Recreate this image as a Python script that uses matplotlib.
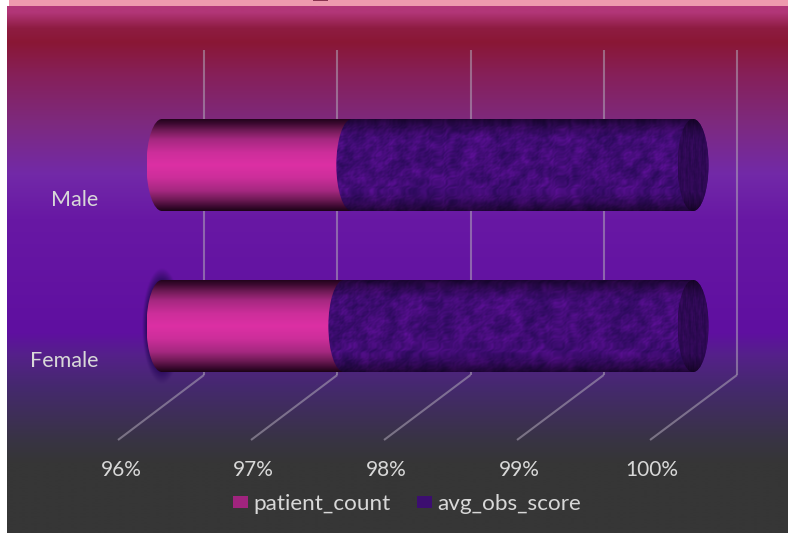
import numpy as np
import matplotlib
matplotlib.use("Agg")
import matplotlib.pyplot as plt
from matplotlib.colors import LinearSegmentedColormap, to_rgb
from matplotlib.patches import PathPatch, Patch
from matplotlib.path import Path
from matplotlib.transforms import ScaledTranslation

plt.rcParams['font.family'] = ['Lato', 'DejaVu Sans']

categories = ["Female", "Male"]
patient_count = [97.37, 97.43]
avg_obs_score = [2.63, 2.57]
tick_values = [96, 97, 98, 99, 100]
tick_labels = ["96%", "97%", "98%", "99%", "100%"]
series_names = ["patient_count", "avg_obs_score"]

W, H = 788, 533
fig = plt.figure(figsize=(W / 100, H / 100), dpi=100, facecolor="white")

# page background
bg = fig.add_axes([0, 0, 1, 1], zorder=0)
bg.set_xlim(0, W); bg.set_ylim(H, 0); bg.axis("off")
stops = [(6, "#B23678"), (22, "#8E1C42"), (36, "#8A1735"), (70, "#86205A"),
         (120, "#7D2A80"), (170, "#7229A8"), (215, "#6818A4"), (330, "#5F0FA0"),
         (352, "#55208A"), (385, "#45296E"), (440, "#383443"), (462, "#363636"), (533, "#363636")]
ys = np.arange(H)
grad = np.stack([np.interp(ys, [s[0] for s in stops], [to_rgb(s[1])[c] for s in stops]) for c in range(3)], axis=1)[:, None, :]
bg.imshow(grad, extent=[7, W, H, 6], aspect="auto", interpolation="bilinear", zorder=1)
bg.add_patch(plt.Rectangle((9, 0), W - 9, 6, fc="#EE9AAE", ec="none", zorder=2))
bg.add_patch(plt.Rectangle((313, 0), 15, 1, fc="#8A3350", ec="none", zorder=3))
bg.set_xlim(0, W); bg.set_ylim(H, 0)

# chart plane: 96..100 % across the bar plane
PX_L, PX_R = 162, 693
PX_TOP, PX_BOT = 50, 440
PX_F, PX_M = 326, 165
ax = fig.add_axes([PX_L / W, 1 - PX_BOT / H, (PX_R - PX_L) / W, (PX_BOT - PX_TOP) / H], zorder=1)
ax.patch.set_visible(False)
for s in ax.spines.values():
    s.set_visible(False)
xscale = (PX_R - PX_L) / 4
yscale = PX_F - PX_M
ylim = ((PX_F - PX_BOT) / yscale, (PX_F - PX_TOP) / yscale)
xlim = (96, 100)
ax.set_xlim(*xlim); ax.set_ylim(*ylim)

# walls and floor
depth = 42 / xscale
front = 44 / xscale
wall_bottom = (PX_F - 375) / yscale
wall_top = ylim[1]
line_kw = dict(color="#B0A8B8", alpha=0.55, lw=1.5, clip_on=False, zorder=1, solid_capstyle="butt")
for t in tick_values:
    xs = t + depth + (t - 96) * 0.0038
    xf = t - front + (t - 96) * 0.0019
    ax.plot([xs, xs], [wall_top, wall_bottom], **line_kw)
    ax.plot([xs, xf], [wall_bottom, ylim[0]], **line_kw)

# cylinder images
half_h = 46 / yscale
cap_w = 15.5 / xscale
K = 0.5523


def cyl_path(x0, x1, yc, closed_right=False):
    t, b = yc + half_h, yc - half_h
    verts = [(x0, t), (x1, t)]
    codes = [Path.MOVETO, Path.LINETO]
    if closed_right:
        verts += [(x1 + cap_w * K, t), (x1 + cap_w, yc + half_h * K), (x1 + cap_w, yc),
                  (x1 + cap_w, yc - half_h * K), (x1 + cap_w * K, b), (x1, b)]
        codes += [Path.CURVE4] * 6
    else:
        verts += [(x1, b)]
        codes += [Path.LINETO]
    verts += [(x0, b), (x0 - cap_w * K, b), (x0 - cap_w, yc - half_h * K), (x0 - cap_w, yc),
              (x0 - cap_w, yc + half_h * K), (x0 - cap_w * K, t), (x0, t)]
    codes += [Path.LINETO] + [Path.CURVE4] * 6
    return Path(verts, codes)


def draw_clipped(img, x0, x1, yc, path, z, cmap=None, vmin=None, vmax=None):
    im = ax.imshow(img, extent=[x0, x1, yc - half_h, yc + half_h], aspect="auto", origin="upper",
                   interpolation="bilinear", cmap=cmap, vmin=vmin, vmax=vmax, zorder=z)
    im.set_clip_box(fig.bbox)
    im.set_clip_path(PathPatch(path, transform=ax.transData))
    return im


pink_pos = [0, .05, .12, .22, .36, .5, .64, .78, .88, .95, 1]
pink_col = ["#22041C", "#3E0A32", "#6E1A55", "#A52880", "#CC2E9A", "#DC30A4",
            "#CC2E9A", "#A52880", "#6E1A55", "#3E0A32", "#1C0316"]
pink_cmap = LinearSegmentedColormap.from_list("p", list(zip(pink_pos, pink_col)))
pink_img = np.linspace(0, 1, 256)[:, None]


def texture(seed, h=92, w=380):
    yy, xx = np.mgrid[0:h, 0:w].astype(float)
    v = np.zeros_like(xx)
    for i, (fx, fy) in enumerate([(.031, .083), (.071, .047), (.127, .191), (.233, .157), (.41, .37), (.67, .59), (.83, 1.07), (1.19, .91)]):
        v += np.sin(fx * xx + fy * yy + 1.7 * np.sin(.09 * (i + 1) * yy + seed) + 2.1 * np.sin(.05 * (i + 2) * xx + i)) / (1 + i * .2)
    v = (v - v.min()) / (v.max() - v.min())
    return v


dark = np.array(to_rgb("#2A0A5A"))
light = np.array(to_rgb("#5E1098"))


def tex_rgb(seed, scale=1.0):
    v = texture(seed)[..., None]
    rgb = dark + (light - dark) * v ** 1.2
    e = np.abs(np.linspace(-1, 1, rgb.shape[0]))[:, None, None]
    shade = 1 - 0.55 * np.clip((e - .55) / .45, 0, 1) ** 1.5
    return np.clip(rgb * shade * scale, 0, 1)


ypos = np.arange(len(categories))

# soft dark halo behind the Female bar's end
yy, xx = np.mgrid[-1:1:240j, -1:1:120j]
r = np.sqrt(xx ** 2 + yy ** 2)
halo = np.zeros(r.shape + (4,))
halo[..., :3] = to_rgb("#2A0A5C")
halo[..., 3] = np.clip((1 - r) / .22, 0, 1) * .9
hx, hy = 20 / xscale, 58 / yscale
him = ax.imshow(halo, extent=[96 - hx, 96 + hx, ypos[0] - hy, ypos[0] + hy], aspect="auto",
                zorder=1.5, interpolation="bilinear")
him.set_clip_box(fig.bbox)

for i, yc in enumerate(ypos):
    end = patient_count[i]
    draw_clipped(pink_img, 96 - cap_w, end + cap_w, yc, cyl_path(96, end, yc), 3, cmap=pink_cmap, vmin=0, vmax=1)
    stack_end = patient_count[i] + avg_obs_score[i]
    draw_clipped(tex_rgb(i * 1.3), end - cap_w, stack_end + cap_w, yc,
                 cyl_path(end, stack_end, yc, closed_right=True), 4)
    cap = cyl_path(stack_end, stack_end, yc, closed_right=True)
    draw_clipped(tex_rgb(i + 4.1, .72), stack_end - cap_w, stack_end + cap_w, yc, cap, 5)

ax.set_xlim(*xlim); ax.set_ylim(*ylim)

# axis labels
TXT = "#D8D8D8"
ax.set_xticks(tick_values, tick_labels)
ax.set_yticks(ypos, categories)
ax.tick_params(length=0, labelcolor=TXT, pad=0)
ax.tick_params(axis="x", labelsize=15)
ax.tick_params(axis="y", labelsize=15.5)
for lab in ax.get_xticklabels():
    lab.set_transform(lab.get_transform() + ScaledTranslation(-41 / 100, -20 / 100, fig.dpi_scale_trans))
for lab in ax.get_yticklabels():
    lab.set_transform(lab.get_transform() + ScaledTranslation(-64 / 100, -33 / 100, fig.dpi_scale_trans))

handles = [Patch(fc="#A0247E", ec="none", label=series_names[0]),
           Patch(fc="#3C0E70", ec="none", label=series_names[1])]
leg = fig.legend(handles=handles, loc="center", bbox_to_anchor=(407 / W, 1 - 504 / H), ncol=2, frameon=False,
                 fontsize=16.2, labelcolor=TXT, handlelength=0.66, handleheight=0.5, handletextpad=0.22,
                 columnspacing=1.18, borderpad=0)

fig.savefig("out.png", dpi=100, facecolor="white")
